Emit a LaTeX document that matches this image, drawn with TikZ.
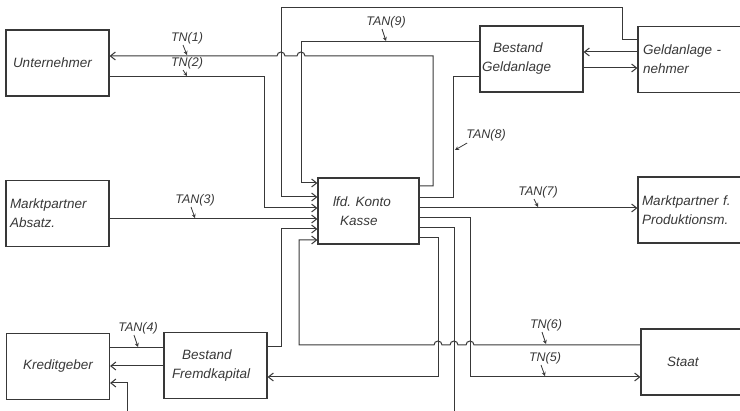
\documentclass[tikz,border=0pt]{standalone}
\usepackage{fontspec}
\setmainfont{Liberation Sans}
\usetikzlibrary{arrows.meta}
\frenchspacing
\definecolor{ink}{HTML}{383838}
\tikzset{
  blk/.style={draw=ink,line width=1.2pt,minimum width=103pt,minimum height=66pt,inner ysep=0pt,
    align=left,text=ink,font=\itshape\fontsize{13.5}{19}\selectfont},   % account box
  lbl/.style={text=ink,inner sep=1pt,font=\itshape\fontsize{12.5}{14}\selectfont}, % TN / TAN label
  wire/.style={draw=ink,line width=1pt},
  flow/.style={wire,-{Straight Barb[length=5pt,width=8pt]}},
  ptr/.style={draw=ink,line width=0.8pt,-{Stealth[length=4pt,width=4pt]}},
  hop/.style={start angle=0,end angle=180,radius=4pt},
}

\begin{document}
\begin{tikzpicture}[x=1pt,y=-1pt]
  \useasboundingbox (0,0) rectangle (740,411);
  \clip (0,0) rectangle (740,411);
  % boxes
  \node[blk,inner xsep=7pt,text width=89pt] (unter) at (57.5,63) {Unternehmer};
  \node[blk,inner xsep=4pt,text width=95pt] (absatz) at (57.5,213.5) {Marktpartner\\Absatz.};
  \node[blk,align=center,inner xsep=6pt,text width=90pt] (kredit) at (58,366.5) {Kreditgeber};
  \node[blk,inner xsep=8pt,text width=87pt] (fremd) at (215.5,365.5) {\hspace*{10pt}Bestand\\Fremdkapital};
  \node[blk,minimum width=101pt,inner xsep=15pt,text width=71pt] (kasse) at (368.5,211) {lfd. Konto\\\hspace*{7pt}Kasse};
  \node[blk,inner xsep=2pt,text width=99pt] (geld) at (531.5,59) {\hspace*{11pt}Bestand\\Geldanlage};
  \node[blk,minimum width=112pt,inner xsep=5pt,text width=102pt] (nehmer) at (694,59.5) {Geldanlage -\\nehmer};
  \node[blk,minimum width=112pt,inner xsep=4pt,text width=104pt] (prod) at (694,210) {Marktpartner f.\\Produktionsm.};
  \node[blk,minimum width=109pt,inner xsep=26pt,text width=57pt] (staat) at (695.5,362) {Staat};
  \coordinate (exitS) at (454,411);
  \coordinate (inK) at (127,411);

  % into the account
  \draw[flow] (nehmer.west |- 0,40) -- (622,40) |- (281,8) |- (kasse.west |- 0,197);
  \draw[flow] (geld.west |- 0,42) -| (301,183) -- (kasse.west |- 0,183);
  \draw[flow] (unter.east |- 0,77) -| (264,208) -- (kasse.west |- 0,208);
  \draw[flow] (absatz.east |- 0,219) -- (kasse.west |- 0,219);
  \draw[flow] (fremd.east |- 0,347) -| (281,229) -- (kasse.west |- 0,229);
  \draw[flow] (staat.west |- 0,345) -- (474,345) arc[hop] -- (458,345) arc[hop]
    -- (442,345) arc[hop] -- (299,345) |- (kasse.west |- 0,240);
  % out of the account
  \draw[flow] (kasse.east |- 0,186) -| (433,56) -- (305,56) arc[hop]
    -- (285,56) arc[hop] -- (unter.east |- 0,56);
  \draw[wire] (geld.west |- 0,77) -| (453,198) -- (kasse.east |- 0,198);
  \draw[flow] (kasse.east |- 0,208) -- (prod.west |- 0,208);
  \draw[flow] (kasse.east |- 0,218) -| (470,377) -- (staat.west |- 0,377);
  \draw[wire] (kasse.east |- 0,228) -| (exitS);
  \draw[flow] (kasse.east |- 0,238) -| (438,377) -- (fremd.east |- 0,377);
  % side accounts
  \draw[flow] (nehmer.west |- 0,52) -- (geld.east |- 0,52);
  \draw[flow] (geld.east |- 0,68) -- (nehmer.west |- 0,68);
  \draw[wire] (fremd.west |- 0,348) -- (kredit.east |- 0,348);
  \draw[flow] (fremd.west |- 0,366) -- (kredit.east |- 0,366);
  \draw[flow] (inK) |- (kredit.east |- 0,383);

  % labels
  \node[lbl] (tn1) at (187,38) {TN(1)};
  \node[lbl] (tn2) at (187,63) {TN(2)};
  \node[lbl] (tan3) at (195,200) {TAN(3)};
  \node[lbl] (tan4) at (138,328) {TAN(4)};
  \node[lbl] (tan9) at (386,22) {TAN(9)};
  \node[lbl] (tan8) at (486,135) {TAN(8)};
  \node[lbl] (tan7) at (538,192) {TAN(7)};
  \node[lbl] (tn6) at (546,325) {TN(6)};
  \node[lbl] (tn5) at (545,358) {TN(5)};
  \draw[ptr] ([xshift=-4pt]tn1.south) -- (tn1.south |- 0,55);
  \draw[ptr] ([xshift=-4pt]tn2.south) -- (tn2.south |- 0,76);
  \draw[ptr] ([xshift=-4pt]tan3.south) -- (tan3.south |- 0,218);
  \draw[ptr] ([xshift=-4pt]tan4.south) -- (tan4.south |- 0,347);
  \draw[ptr] ([xshift=-4pt]tan9.south) -- (tan9.south |- 0,41);
  \draw[ptr] ([xshift=-4pt]tan7.south) -- (tan7.south |- 0,207);
  \draw[ptr] ([xshift=-4pt]tn6.south) -- (tn6.south |- 0,344);
  \draw[ptr] ([xshift=-4pt]tn5.south) -- (tn5.south |- 0,376);
  \draw[ptr] ([xshift=2pt,yshift=-1pt]tan8.south west) -- (455,150);
\end{tikzpicture}
\end{document}
